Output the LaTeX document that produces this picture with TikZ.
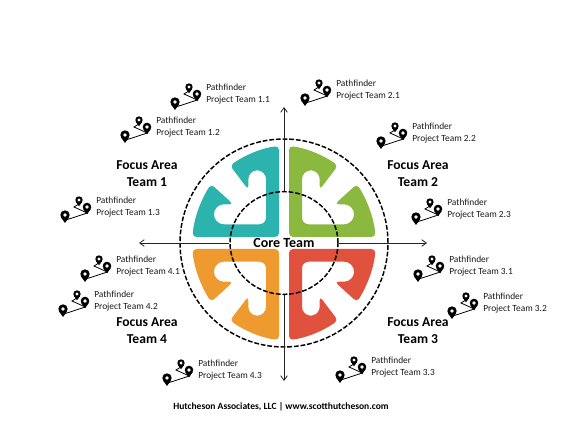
\documentclass[tikz,border=0pt]{standalone}
\usepackage{fontspec}
\setmainfont{Carlito}
\usetikzlibrary{arrows.meta,shapes.geometric}
\definecolor{TealArea}{HTML}{2DB3AD}
\definecolor{GreenArea}{HTML}{8BB83F}
\definecolor{RedArea}{HTML}{E0523E}
\definecolor{OrangeArea}{HTML}{EE9A2E}

\begin{document}
\begin{tikzpicture}[
  x=0.75pt,y=-0.75pt,
  team/.style={inner sep=0pt,anchor=west,align=left,text=black!90,font=\fontsize{7.05}{9}\selectfont},
  focus/.style={inner sep=0pt,align=center,font=\fontsize{10.2}{12.75}\selectfont\bfseries},
  ring/.style={draw=black,dashed,dash pattern=on 3.6pt off 1.4pt,line width=1.1pt,inner sep=0pt},
  arrow/.style={-{Straight Barb[length=3.5pt,width=5pt]},line width=0.6pt,color=black!85},
  mappin/.pic={
    \fill (0,0) circle (1);
    \fill (-0.85,0.5) -- (0,1.7) -- (0.85,0.5) -- cycle;
    \fill[white] (0,0) circle (0.42);
  },
  petal/.pic={
    \fill[#1] (-5,-50) [rounded corners=3pt] -- (-5,-6) -- (-91.5,-6)
      .. controls (-90,-25) and (-83,-43) .. (-73,-59) -- (-50.7,-38.7)
      [rounded corners=7.4pt] -- (-70,-38.7) -- (-70,-18.7) [rounded corners=5pt] -- (-18,-18.7)
      [rounded corners=6.7pt] -- (-18,-72.7) -- (-35.7,-72.7) [rounded corners=3pt] -- (-35.7,-53.3)
      -- (-54,-77.5) .. controls (-39,-88) and (-22,-95) .. (-5,-97) -- cycle;
  },
  route/.pic={
    \draw[line width=0.6pt] (-31,19.3) -- (-8.7,12) -- (-22,6) -- (-16.7,2.7);
    \pic[scale=4.7] at (-31,14) {mappin};
    \pic[scale=4.3] at (-9,6) {mappin};
    \pic[scale=3.7] at (-17,-1) {mappin};
  }
]
\useasboundingbox (0,0) rectangle (568,424);
\pic at (284,243) {petal=TealArea};
\pic[xscale=-1] at (284,243) {petal=GreenArea};
\pic[xscale=-1,yscale=-1] at (284,243) {petal=RedArea};
\pic[yscale=-1] at (284,243) {petal=OrangeArea};
\node[ring,circle,minimum size=156pt] (outer) at (284,243) {};
\node[ring,ellipse,minimum width=81pt,minimum height=77pt,font=\fontsize{10.5}{12}\selectfont\bfseries] (core) at (284,243) {Core Team};
\coordinate (topend) at (284,107);
\coordinate (bottomend) at (284,381);
\coordinate (leftend) at (139,243);
\coordinate (rightend) at (427,243);
\draw[arrow] (core.north) -- (topend);
\draw[arrow] (core.south) -- (bottomend);
\draw[arrow] (core.west) -- (leftend);
\draw[arrow] (core.east) -- (rightend);
\node[focus] (focus1) at (147,173.5) {Focus Area\\Team 1};
\node[focus] (focus2) at (418,173.5) {Focus Area\\Team 2};
\node[focus] (focus3) at (418,330.5) {Focus Area\\Team 3};
\node[focus] (focus4) at (147,330.5) {Focus Area\\Team 4};
\node[team] (team11) at (206,94) {Pathfinder\\Project Team 1.1};
\node[team] (team12) at (156,127) {Pathfinder\\Project Team 1.2};
\node[team] (team13) at (96,207) {Pathfinder\\Project Team 1.3};
\node[team] (team21) at (336,90) {Pathfinder\\Project Team 2.1};
\node[team] (team22) at (412,133) {Pathfinder\\Project Team 2.2};
\node[team] (team23) at (447,209) {Pathfinder\\Project Team 2.3};
\node[team] (team31) at (449,266) {Pathfinder\\Project Team 3.1};
\node[team] (team32) at (483,303) {Pathfinder\\Project Team 3.2};
\node[team] (team33) at (371,367) {Pathfinder\\Project Team 3.3};
\node[team] (team41) at (116,266) {Pathfinder\\Project Team 4.1};
\node[team] (team42) at (94,301) {Pathfinder\\Project Team 4.2};
\node[team] (team43) at (198,370) {Pathfinder\\Project Team 4.3};
\pic at ([yshift=4.5pt]team11.west) {route};
\pic at ([yshift=4.5pt]team12.west) {route};
\pic at ([yshift=4.5pt]team13.west) {route};
\pic at ([yshift=4.5pt]team21.west) {route};
\pic at ([yshift=4.5pt]team22.west) {route};
\pic at ([yshift=4.5pt]team23.west) {route};
\pic at ([yshift=4.5pt]team31.west) {route};
\pic at ([yshift=4.5pt]team32.west) {route};
\pic at ([yshift=4.5pt]team33.west) {route};
\pic at ([yshift=4.5pt]team41.west) {route};
\pic at ([yshift=4.5pt]team42.west) {route};
\pic at ([yshift=4.5pt]team43.west) {route};
\node[inner sep=0pt,font=\fontsize{7.15}{9}\selectfont\bfseries] (footer) at (281,407) {Hutcheson Associates, LLC | www.scotthutcheson.com};
\end{tikzpicture}
\end{document}
